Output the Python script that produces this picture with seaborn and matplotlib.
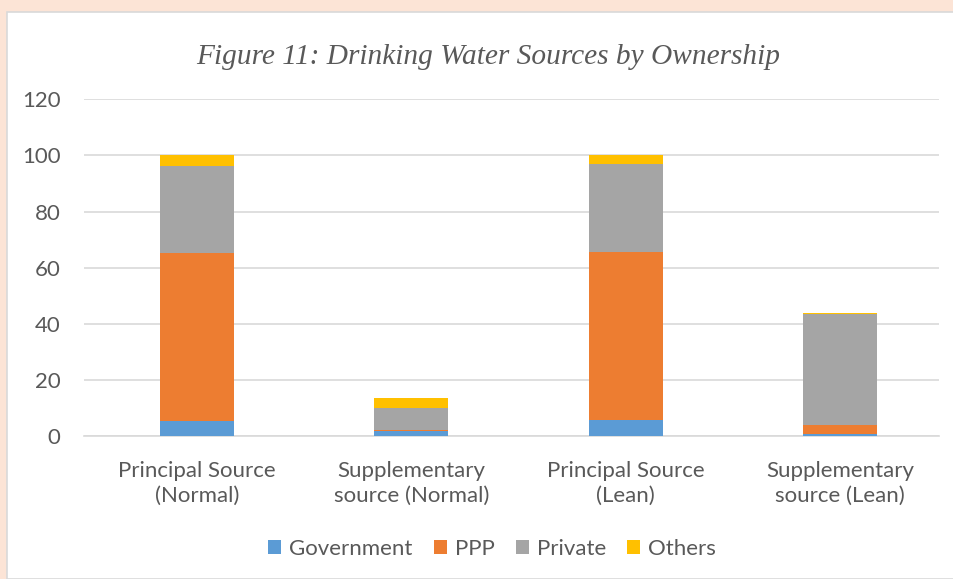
import matplotlib
matplotlib.use("Agg")
import matplotlib.pyplot as plt
import seaborn as sns
import pandas as pd
import numpy as np
from matplotlib.patches import Rectangle, Patch

categories = ["Principal Source\n(Normal)", "Supplementary\nsource (Normal)",
              "Principal Source\n(Lean)", "Supplementary\nsource (Lean)"]
government = [5.3, 1.7, 5.7, 0.8]
ppp = [59.9, 0.5, 60.0, 3.1]
private = [30.9, 7.9, 31.1, 39.6]
others = [3.9, 3.6, 3.2, 0.3]
series_names = ["Government", "PPP", "Private", "Others"]
colors = ["#5B9BD5", "#ED7D31", "#A5A5A5", "#FFC000"]

sns.set_theme(style="white")
plt.rcParams['font.family'] = ['Lato', 'DejaVu Sans']

fig = plt.figure(figsize=(9.54, 5.79), dpi=100)
fig.patch.set_facecolor("#FCE4D6")
fig.add_artist(Rectangle((7/954, 0), 1 - 7/954, 1 - 12/579, transform=fig.transFigure,
                         facecolor="white", edgecolor="#D9D9D9", linewidth=1.2, zorder=0))

ax = fig.add_axes([84/954, (579-436)/579, (939-84)/954, (436-99.3)/579])
ax.set_facecolor("none")

bottom = np.zeros(len(categories))
data = [government, ppp, private, others]
for name, vals, col in zip(series_names, data, colors):
    tmp = pd.DataFrame({"category": categories, "value": np.array(vals) + bottom})
    sns.barplot(data=tmp, x="category", y="value", color=col, width=0.346,
                ax=ax, saturation=1)
    bottom = bottom + np.array(vals)
for i, cont in enumerate(ax.containers):
    for bar in cont:
        bar.set_zorder(10 - i)
        bar.set_edgecolor("none")

step = 214.3
ax.set_ylim(0, 120)
ax.set_xlim(-(197 - 84) / step, (939 - 197) / step)
ax.set_yticks(range(0, 121, 20))
ax.yaxis.grid(True, color="#D9D9D9", linewidth=1.2, zorder=0)
ax.set_axisbelow(True)
for s in ["top", "right", "left"]:
    ax.spines[s].set_visible(False)
ax.spines["bottom"].set_color("#D9D9D9")
ax.spines["bottom"].set_linewidth(1.2)
ax.set_xlabel("")
ax.set_ylabel("")
fs = 16
ax.tick_params(axis="both", length=0, labelsize=fs, colors="#595959")
ax.tick_params(axis="x", pad=18)
ax.tick_params(axis="y", pad=17)
ax.set_xticks(range(4))
ax.set_xticklabels(categories, linespacing=1.33)

fig.text(488/954, 1 - 57/579, "Figure 11: Drinking Water Sources by Ownership",
         ha="center", va="center", fontsize=21.2, style="italic",
         family=["Liberation Serif", "DejaVu Serif"], color="#595959")

handles = [Patch(facecolor=c, edgecolor="none") for c in colors]
fig.legend(handles, series_names, loc="center", bbox_to_anchor=(492/954, 1 - 549/579),
           ncol=4, frameon=False, fontsize=fs, labelcolor="#595959",
           handlelength=0.6, handleheight=0.6, handletextpad=0.35, columnspacing=0.95)

fig.savefig("out.png", dpi=100, facecolor=fig.get_facecolor())
